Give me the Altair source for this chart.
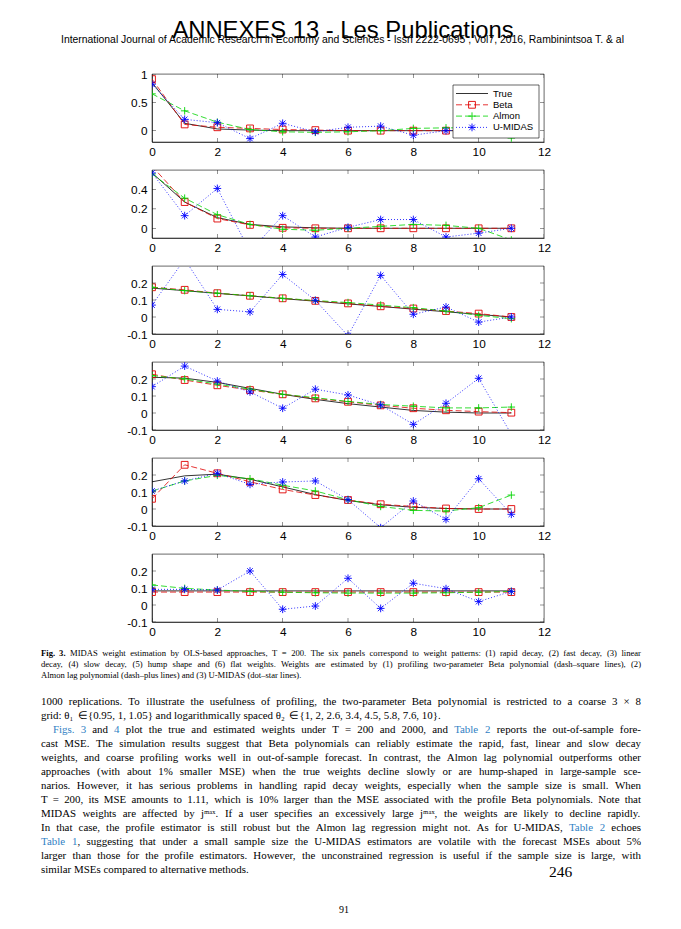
import re
import altair as alt
import pandas as pd

# ---------------- data ----------------
LAGS = [0, 1, 2, 3, 4, 5, 6, 7, 8, 9, 10, 11]
SERIES = ["True", "Beta", "Almon", "U-MIDAS"]

TRUE1 = [0.85, 0.13, 0.03, 0.01, 0.0, 0.0, 0.0, 0.0, 0.0, 0.0, 0.0, 0.0]
BETA1 = [0.91, 0.11, 0.06, 0.04, 0.02, 0.01, 0.0, 0.0, 0.0, 0.0, 0.0, 0.0]
ALMON1 = [0.65, 0.35, 0.15, 0.02, -0.02, -0.03, -0.02, 0.0, 0.04, 0.05, 0.05, -0.13]
UMIDAS1 = [0.82, 0.20, 0.14, -0.14, 0.13, -0.02, 0.06, 0.08, -0.08, 0.0, 0.02, -0.02]

TRUE2 = [0.57, 0.27, 0.11, 0.04, 0.015, 0.005, 0.0, 0.0, 0.0, 0.0, 0.0, 0.0]
BETA2 = [0.64, 0.27, 0.10, 0.035, 0.005, 0.0, 0.0, 0.0, 0.0, 0.0, 0.0, 0.0]
ALMON2 = [0.56, 0.31, 0.14, 0.04, -0.01, -0.02, 0.0, 0.02, 0.04, 0.03, 0.0, -0.12]
UMIDAS2 = [0.57, 0.13, 0.41, -0.24, 0.13, -0.09, 0.01, 0.09, 0.09, -0.09, -0.05, 0.0]

TRUE3 = [0.17, 0.155, 0.139, 0.124, 0.108, 0.093, 0.077, 0.062, 0.046, 0.031, 0.015, 0.0]
BETA3 = [0.175, 0.16, 0.14, 0.125, 0.11, 0.095, 0.08, 0.063, 0.05, 0.035, 0.02, 0.0]
ALMON3 = [0.175, 0.155, 0.14, 0.125, 0.11, 0.097, 0.085, 0.07, 0.055, 0.035, 0.01, -0.01]
UMIDAS3 = [0.07, 0.34, 0.045, 0.03, 0.25, 0.098, -0.11, 0.245, 0.016, 0.059, -0.03, 0.0]

TRUE4 = [0.21, 0.205, 0.18, 0.145, 0.11, 0.08, 0.055, 0.035, 0.015, 0.005, 0.0, 0.0]
BETA4 = [0.228, 0.194, 0.163, 0.135, 0.11, 0.086, 0.066, 0.045, 0.028, 0.016, 0.008, 0.002]
ALMON4 = [0.22, 0.2, 0.17, 0.14, 0.11, 0.09, 0.068, 0.05, 0.04, 0.03, 0.03, 0.035]
UMIDAS4 = [0.155, 0.276, 0.188, 0.124, 0.028, 0.14, 0.106, 0.047, -0.067, 0.057, 0.204, -0.125]

TRUE5 = [0.16, 0.195, 0.205, 0.175, 0.13, 0.085, 0.05, 0.025, 0.01, 0.003, 0.0, 0.0]
BETA5 = [0.06, 0.26, 0.21, 0.16, 0.115, 0.082, 0.053, 0.028, 0.015, 0.003, 0.0, 0.0]
ALMON5 = [0.105, 0.165, 0.198, 0.178, 0.14, 0.106, 0.055, 0.015, -0.008, -0.012, 0.008, 0.082]
UMIDAS5 = [0.106, 0.165, 0.21, 0.145, 0.159, 0.165, 0.055, -0.11, 0.047, -0.061, 0.178, -0.031]

TRUE6 = [0.083, 0.083, 0.083, 0.083, 0.083, 0.083, 0.083, 0.083, 0.083, 0.083, 0.083, 0.083]
BETA6 = [0.076, 0.076, 0.076, 0.076, 0.076, 0.076, 0.076, 0.076, 0.076, 0.076, 0.076, 0.076]
ALMON6 = [0.118, 0.098, 0.088, 0.08, 0.075, 0.072, 0.07, 0.07, 0.07, 0.072, 0.075, 0.08]
UMIDAS6 = [0.092, 0.092, 0.088, 0.2, -0.025, -0.006, 0.157, -0.02, 0.128, 0.096, 0.02, 0.08]

X_TICKS = [0, 2, 4, 6, 8, 10, 12]
Y_TICKS1 = [0, 0.5, 1]
Y_TICKS2 = [0, 0.2, 0.4]
Y_TICKS3 = [-0.1, 0, 0.1, 0.2]

HEADER_TITLE = "ANNEXES 13 - Les Publications"
HEADER_LINE = ("International Journal of Academic Research in Economy and Sciences  -  "
               "Issn 2222-0695 , Vol7, 2016, Rambinintsoa T. & al")

CAPTION = [
    "^Fig. ^3.  MIDAS weight estimation by OLS-based approaches, T = 200. The six panels correspond to weight patterns: (1) rapid decay, (2) fast decay, (3) linear",
    "decay, (4) slow decay, (5) hump shape and (6) flat weights. Weights are estimated by (1) profiling two-parameter Beta polynomial (dash–square lines), (2)",
    "Almon lag polynomial (dash–plus lines) and (3) U-MIDAS (dot–star lines).",
]
BODY = [
    "1000 replications. To illustrate the usefulness of profiling, the two-parameter Beta polynomial is restricted to a coarse 3 × 8",
    "grid: θ₁ ∈ {0.95, 1, 1.05} and logarithmically spaced θ₂ ∈ {1, 2, 2.6, 3.4, 4.5, 5.8, 7.6, 10}.",
    "§Figs. §3 and §4 plot the true and estimated weights under T = 200 and 2000, and §Table §2 reports the out-of-sample fore-",
    "cast MSE. The simulation results suggest that Beta polynomials can reliably estimate the rapid, fast, linear and slow decay",
    "weights, and coarse profiling works well in out-of-sample forecast. In contrast, the Almon lag polynomial outperforms other",
    "approaches (with about 1% smaller MSE) when the true weights decline slowly or are hump-shaped in large-sample sce-",
    "narios. However, it has serious problems in handling rapid decay weights, especially when the sample size is small. When",
    "T = 200, its MSE amounts to 1.11, which is 10% larger than the MSE associated with the profile Beta polynomials. Note that",
    "MIDAS weights are affected by jᵐᵃˣ. If a user specifies an excessively large jᵐᵃˣ, the weights are likely to decline rapidly.",
    "In that case, the profile estimator is still robust but the Almon lag regression might not. As for U-MIDAS, §Table §2 echoes",
    "§Table §1|, suggesting that under a small sample size the U-MIDAS estimators are volatile with the forecast MSEs about 5%",
    "larger than those for the profile estimators. However, the unconstrained regression is useful if the sample size is large, with",
    "similar MSEs compared to alternative methods.",
]
BODY_JUSTIFY = [True, False, True, True, True, True, True, True, True, True, True, True, False]
PAGE_NUM = "246"
FOLIO = "91"

# ---------------- styles / layout ----------------
SANS = "Liberation Sans"
SERIF = "Liberation Serif"
LINK = "#2f7fc4"
W, H = 392, 68
PLUS = "M-1,0L1,0M0,-1L0,1"
STAR = "M-1,0L1,0M0,-1L0,1M-0.72,-0.72L0.72,0.72M-0.72,0.72L0.72,-0.72"
STYLE = {
    "True": dict(color="black", dash=None, shape=None, size=0),
    "Beta": dict(color="#e00000", dash=[6, 3], shape="square", size=46),
    "Almon": dict(color="#00d400", dash=[6, 3], shape=PLUS, size=56),
    "U-MIDAS": dict(color="#0000ff", dash=[1, 2], shape=STAR, size=60),
}

PANELS = [
    (dict(zip(SERIES, [TRUE1, BETA1, ALMON1, UMIDAS1])), [-0.2, 1.0], Y_TICKS1),
    (dict(zip(SERIES, [TRUE2, BETA2, ALMON2, UMIDAS2])), [-0.1, 0.6], Y_TICKS2),
    (dict(zip(SERIES, [TRUE3, BETA3, ALMON3, UMIDAS3])), [-0.1, 0.3], Y_TICKS3),
    (dict(zip(SERIES, [TRUE4, BETA4, ALMON4, UMIDAS4])), [-0.1, 0.3], Y_TICKS3),
    (dict(zip(SERIES, [TRUE5, BETA5, ALMON5, UMIDAS5])), [-0.1, 0.3], Y_TICKS3),
    (dict(zip(SERIES, [TRUE6, BETA6, ALMON6, UMIDAS6])), [-0.1, 0.3], Y_TICKS3),
]

xs = alt.Scale(domain=[0, 12], nice=False, zero=False)


def axis(values, label_expr=None, pad=4):
    kw = dict(values=values, title=None, labelFontSize=11.8, labelFont=SANS,
              labelColor="black", ticks=False, labelPadding=pad, labelFlush=False,
              labelOverlap=False, domainColor="black", domainWidth=0.6, grid=False)
    if label_expr:
        kw["labelExpr"] = label_expr
    return alt.Axis(**kw)


def make_panel(vals, ydom, yticks, legend=False):
    ys = alt.Scale(domain=ydom, nice=False, zero=False)
    xax = axis(X_TICKS)
    yax = axis(yticks, "'' + datum.value", 5)
    X = alt.X("lag:Q", scale=xs, axis=xax, title=None)
    Y = alt.Y("value:Q", scale=ys, axis=yax, title=None)
    layers = []
    for name in SERIES:
        st = STYLE[name]
        df = pd.DataFrame({"lag": LAGS, "value": vals[name]})
        kw = dict(color=st["color"], strokeWidth=0.8, clip=True)
        if st["dash"]:
            kw["strokeDash"] = st["dash"]
        base = alt.Chart(df)
        layers.append(base.mark_line(**kw).encode(x=X, y=Y))
        if st["shape"]:
            layers.append(base.mark_point(shape=st["shape"], filled=False, size=st["size"],
                                          color=st["color"], strokeWidth=0.9, opacity=1,
                                          clip=True).encode(x=X, y=Y))
    # inward ticks on all four sides (MATLAB style)
    xt = pd.DataFrame({"lag": X_TICKS})
    yt = pd.DataFrame({"value": yticks})
    tk = dict(color="black", thickness=0.6, size=8, clip=True)
    layers += [
        alt.Chart(xt).mark_tick(orient="vertical", **tk).encode(x=X, y=alt.value(H)),
        alt.Chart(xt).mark_tick(orient="vertical", **tk).encode(x=X, y=alt.value(0)),
        alt.Chart(yt).mark_tick(orient="horizontal", **tk).encode(y=Y, x=alt.value(0)),
        alt.Chart(yt).mark_tick(orient="horizontal", **tk).encode(y=Y, x=alt.value(W)),
    ]
    if legend:
        lx0, lx1, ly0, ly1 = 301, 387, 11, 64
        rows = [19.5 + 11.3 * i for i in range(len(SERIES))]
        box = pd.DataFrame({"k": [0]})
        layers.append(alt.Chart(box).mark_rect(fill="white", stroke="black", strokeWidth=0.6).encode(
            x=alt.value(lx0), x2=alt.value(lx1), y=alt.value(ly0), y2=alt.value(ly1)))
        for name, ry in zip(SERIES, rows):
            st = STYLE[name]
            kw = dict(color=st["color"], strokeWidth=0.8)
            if st["dash"]:
                kw["strokeDash"] = st["dash"]
            layers.append(alt.Chart(box).mark_rule(**kw).encode(
                x=alt.value(lx0 + 3), x2=alt.value(lx0 + 35), y=alt.value(ry)))
            if st["shape"]:
                layers.append(alt.Chart(box).mark_point(shape=st["shape"], filled=False, size=st["size"],
                                                        color=st["color"], strokeWidth=0.9, opacity=1).encode(
                    x=alt.value(lx0 + 19), y=alt.value(ry)))
        lab = pd.DataFrame({"name": SERIES, "ly": rows})
        layers.append(alt.Chart(lab).mark_text(align="left", baseline="middle", font=SANS, fontSize=9.5,
                                               color="black").encode(
            x=alt.value(lx0 + 40), y=alt.Y("ly:Q", scale=None, axis=None), text="name:N"))
    return alt.layer(*layers).properties(width=W, height=H,
                                         view=alt.ViewBackground(stroke="black", strokeWidth=0.6))


# ---------------- text helpers (Times metrics = Liberation Serif) ----------------
TIMES = {' ': 250, '!': 333, '"': 408, '%': 833, '&': 778, "'": 333, '(': 333, ')': 333, '+': 564,
         ',': 250, '-': 333, '.': 250, '/': 278, ':': 278, ';': 278, '=': 564, '?': 444, '{': 480,
         '}': 480, '×': 564, '∈': 667, 'θ': 500, '–': 500, 'ᵐ': 450, 'ᵃ': 320, 'ˣ': 320}
TIMES.update({d: 500 for d in "0123456789"})
TIMES.update(dict(zip("ABCDEFGHIJKLMNOPQRSTUVWXYZ",
                      [722, 667, 667, 722, 611, 556, 722, 722, 333, 389, 722, 611, 889, 722, 722, 556,
                       722, 667, 556, 611, 722, 722, 944, 722, 722, 611])))
TIMES.update(dict(zip("abcdefghijklmnopqrstuvwxyz",
                      [444, 500, 444, 500, 444, 333, 500, 500, 278, 278, 500, 278, 778, 500, 500, 500,
                       500, 333, 389, 278, 500, 500, 722, 500, 500, 444])))


def tw(s, size):
    return sum(TIMES.get(ch, 500) for ch in s) * size / 1000.0


def parse(line):
    toks = []
    for tok in line.split(" "):
        if tok == "":
            continue
        bold = tok.startswith("^")
        if bold:
            tok = tok[1:]
        if tok.startswith("§"):
            tok = tok[1:]
            if "|" in tok:
                a, b = tok.split("|", 1)
                segs = [(a, LINK, bold), (b, "black", bold)]
            else:
                segs = [(tok, LINK, bold)]
        else:
            segs = [(tok, "black", bold)]
        toks.append(segs)
    return toks


def set_line(line, x0, x1, y, size, justify):
    toks = parse(line)
    widths = [sum(tw(s[0], size) for s in t) for t in toks]
    if justify and len(toks) > 1:
        gap = (x1 - x0 - sum(widths)) / (len(toks) - 1)
    else:
        gap = 0.25 * size
    out = []
    x = x0
    for t, wd in zip(toks, widths):
        xx = x
        for text, col, bold in t:
            out.append(dict(t=text, x=xx, y=y, c=col, s=size, b=bold))
            xx += tw(text, size)
        x += wd + gap
    return out


def text_layers(rows, font, align="left"):
    df = pd.DataFrame(rows)
    layers = []
    for bold in [False, True]:
        sub = df[df["b"] == bold]
        if len(sub) == 0:
            continue
        layers.append(alt.Chart(sub).mark_text(align=align, baseline="alphabetic", font=font,
                                               fontWeight="bold" if bold else "normal").encode(
            x=alt.X("x:Q", scale=None, axis=None), y=alt.Y("y:Q", scale=None, axis=None),
            color=alt.Color("c:N", scale=None), size=alt.Size("s:Q", scale=None), text="t:N"))
    return layers


# ---------------- header ----------------
ORGX, HEADER_ORGY, TEXT_ORGY = 151, 8, 649
hdr_rows = [dict(t=HEADER_LINE, x=60 - ORGX, y=42 - HEADER_ORGY, c="black", s=10.4, b=False)]
ttl_rows = [dict(t=HEADER_TITLE, x=342 - ORGX, y=37 - HEADER_ORGY, c="black", s=23.8, b=False)]
header = alt.layer(*text_layers(hdr_rows, SANS), *text_layers(ttl_rows, SANS, "center")).properties(
    width=W, height=37)

# ---------------- caption + body ----------------
X0, X1 = 40 - ORGX, 640 - ORGX
cap_w = max(sum(tw(s[0], 1) for t in parse(l) for s in t) + 0.25 * (len(parse(l)) - 1) for l in CAPTION[:2])
cap_size = min(8.6, 588 / cap_w)
body_w = max(sum(tw(s[0], 1) for t in parse(l) for s in t) + 0.25 * (len(parse(l)) - 1)
             for l, j in zip(BODY, BODY_JUSTIFY) if j)
body_size = min(10.9, 590 / body_w)

rows = []
for i, line in enumerate(CAPTION):
    rows += set_line(line, X0, X1, 655 - TEXT_ORGY + 11 * i, cap_size, i < 2)
for i, line in enumerate(BODY):
    x0 = X0 + (12 if i == 2 else 0)
    rows += set_line(line, x0, X1, 703.5 - TEXT_ORGY + 14 * i, body_size, BODY_JUSTIFY[i])
rows.append(dict(t=PAGE_NUM, x=548 - ORGX, y=876 - TEXT_ORGY, c="black", s=15.5, b=False))
folio = [dict(t=FOLIO, x=343 - ORGX, y=912 - TEXT_ORGY, c="black", s=10, b=False)]
textblock = alt.layer(*text_layers(rows, SERIF), *text_layers(folio, SERIF, "center")).properties(
    width=W, height=240)

panels = [make_panel(v, d, t, legend=(i == 0)) for i, (v, d, t) in enumerate(PANELS)]

chart = alt.vconcat(header, *panels, textblock, spacing=28, bounds="flush").properties(
    padding={"left": 32, "top": 0, "right": 0, "bottom": 0}, background="white"
).configure_view(stroke="transparent")

chart.save("out.html", embed_options={"renderer": "svg", "actions": False})
